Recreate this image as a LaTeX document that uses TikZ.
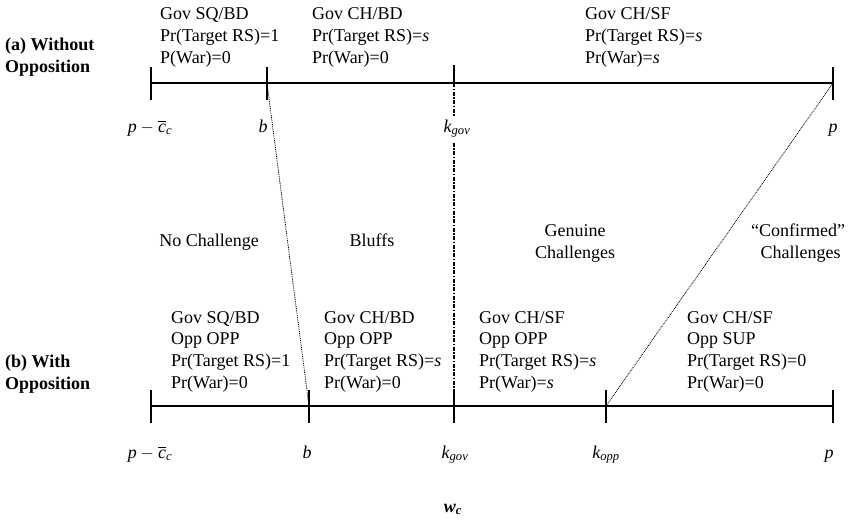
\documentclass[tikz,border=0pt]{standalone}
\usepackage{amsmath}
\usepackage{fontspec}
\setmainfont{Liberation Serif}
\begin{document}
\begin{tikzpicture}[x=1pt,y=-1pt,
  txt/.style={font=\fontsize{18}{21.6}\selectfont, inner sep=0pt, align=left, anchor=base west},
  ctxt/.style={font=\fontsize{18}{21.6}\selectfont, inner sep=0pt, align=center, anchor=base},
  bold/.style={font=\fontsize{18}{21.6}\selectfont\bfseries, inner sep=0pt, align=left, anchor=base west},
  axislab/.style={font=\fontsize{18}{21.6}\selectfont, inner sep=0pt, anchor=base},
  axisline/.style={line width=1.1pt},
  tickline/.style={line width=1.1pt},
  dotline/.style={line width=0.8pt, dash pattern=on 0.9pt off 0.9pt},
  kline/.style={line width=1.4pt, dash pattern=on 4pt off 1.5pt on 1.5pt off 1.5pt}]
\useasboundingbox (0,0) rectangle (848,520);
% coordinates (a) axis
\coordinate (a0) at (151,83);
\coordinate (ab) at (267,83);
\coordinate (ak) at (454,83);
\coordinate (ap) at (833,83);
% coordinates (b) axis
\coordinate (b0) at (151,406);
\coordinate (bb) at (309,406);
\coordinate (bk) at (454,406);
\coordinate (bo) at (606,406);
\coordinate (bp) at (833,406);
% axes
\draw[axisline] (a0) -- (ap);
\draw[axisline] (b0) -- (bp);
% ticks
\foreach \c in {a0,ab,ap,b0,bb,bk,bo,bp}{
  \draw[tickline] (\c) ++(0,-16) -- ++(0,33);
}
\draw[tickline] (ak) ++(0,-18) -- (ak);
% connectors
\draw[dotline] (ab) -- (bb);
\draw[dotline] (ap) -- (bo);
\draw[kline] (ak) -- (bk);
% row labels
\node[bold] (la) at (5,72) {(a) Without\\Opposition};
\node[bold] (lb) at (5,389) {(b) With\\Opposition};
% top blocks
\node[txt] (t1) at (160,63) {Gov SQ/BD\\Pr(Target RS)=1\\P(War)=0};
\node[txt] (t2) at (312,63) {Gov CH/BD\\Pr(Target RS)=\textit{s}\\Pr(War)=0};
\node[txt] (t3) at (585,63) {Gov CH/SF\\Pr(Target RS)=\textit{s}\\Pr(War)=\textit{s}};
% bottom blocks
\node[txt] (u1) at (171,388) {Gov SQ/BD\\Opp OPP\\Pr(Target RS)=1\\Pr(War)=0};
\node[txt] (u2) at (324,388) {Gov CH/BD\\Opp OPP\\Pr(Target RS)=\textit{s}\\Pr(War)=0};
\node[txt] (u3) at (479,388) {Gov CH/SF\\Opp OPP\\Pr(Target RS)=\textit{s}\\Pr(War)=\textit{s}};
\node[txt] (u4) at (687,388) {Gov CH/SF\\Opp SUP\\Pr(Target RS)=0\\Pr(War)=0};
% middle region labels
\node[ctxt] (m1) at (209,246) {No Challenge};
\node[ctxt] (m2) at (372,246) {Bluffs};
\node[ctxt] (m3) at (575,258) {Genuine\\Challenges};
\node[ctxt] (m4) at (798,258) {``Confirmed''\\\hspace*{5pt}Challenges};
% axis labels (a)
\node[axislab] (xa0) at (150,132) {$\textit{p}-\overline{\textit{c}}_{\textit{c}}$};
\node[axislab] (xab) at (263,132) {\textit{b}};
\node[axislab, fill=white, inner sep=4pt] (xak) at (457,132) {$\textit{k}_{\textit{gov}}$};
\node[axislab] (xap) at (833,132) {\textit{p}};
% axis labels (b)
\node[axislab] (xb0) at (150,458) {$\textit{p}-\overline{\textit{c}}_{\textit{c}}$};
\node[axislab] (xbb) at (307,458) {\textit{b}};
\node[axislab] (xbk) at (455,458) {$\textit{k}_{\textit{gov}}$};
\node[axislab] (xbo) at (606,458) {$\textit{k}_{\textit{opp}}$};
\node[axislab] (xbp) at (829,458) {\textit{p}};
% variable
\node[axislab] (wc) at (453,512) {$\textbf{\textit{w}}_{\textbf{\textit{c}}}$};
\end{tikzpicture}
\end{document}
